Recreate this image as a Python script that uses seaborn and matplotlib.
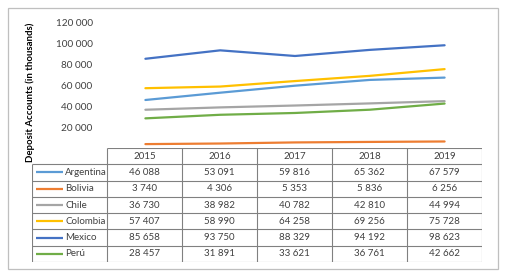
import pandas as pd
import matplotlib.pyplot as plt
import seaborn as sns
from matplotlib.ticker import FuncFormatter
from matplotlib.patches import Rectangle

years = ['2015', '2016', '2017', '2018', '2019']
countries = ['Argentina', 'Bolivia', 'Chile', 'Colombia', 'Mexico', 'Perú']
argentina = [46088, 53091, 59816, 65362, 67579]
bolivia = [3740, 4306, 5353, 5836, 6256]
chile = [36730, 38982, 40782, 42810, 44994]
colombia = [57407, 58990, 64258, 69256, 75728]
mexico = [85658, 93750, 88329, 94192, 98623]
peru = [28457, 31891, 33621, 36761, 42662]
colors = ['#5B9BD5', '#ED7D31', '#A5A5A5', '#FFC000', '#4472C4', '#70AD47']

series = [argentina, bolivia, chile, colombia, mexico, peru]
rows = []
for name, vals in zip(countries, series):
    for y, v in zip(years, vals):
        rows.append({'country': name, 'year': y, 'value': v})
df = pd.DataFrame(rows)

sns.set_theme(style='white')
plt.rcParams['font.family'] = ['Lato', 'DejaVu Sans']

W, H = 507, 278
fig = plt.figure(figsize=(W / 100, H / 100), dpi=100)


def px_axes(x0, y0, x1, y1):
    return fig.add_axes([x0 / W, 1 - y1 / H, (x1 - x0) / W, (y1 - y0) / H])


# outer chart frame
fig.patches.append(Rectangle((8 / W, 1 - 269 / H), 490 / W, 261 / H,
                             transform=fig.transFigure, fill=False,
                             edgecolor='#bfbfbf', lw=0.9))

ax = px_axes(108, 23, 482, 148)
sns.lineplot(data=df, x='year', y='value', hue='country', palette=colors,
             lw=1.6, legend=False, ax=ax, sort=False)
ax.set_xlim(-0.5, 4.5)
ax.set_ylim(0, 120000)
ax.set_yticks(range(20000, 120001, 20000))
ax.yaxis.set_major_formatter(FuncFormatter(lambda v, p: f'{int(v):,}'.replace(',', ' ')))
ax.tick_params(axis='y', labelsize=7.2, colors='#404040', length=0, pad=11)
ax.set_xticks([])
ax.set_xlabel('')
ax.set_ylabel('')
for s in ax.spines.values():
    s.set_visible(False)
ax.patch.set_alpha(0)

fig.text(30 / W, 1 - 92 / H, 'Deposit Accounts (in thousands)', rotation=90,
         ha='center', va='center', fontsize=6.9, fontweight='bold', color='black')

# data table
tab = px_axes(32, 148, 482, 262)
tab.set_xlim(-1.5, 4.5)
tab.set_ylim(7, 0)
tab.axis('off')
lc = '#808080'
tab.hlines(0, -0.5, 4.5, color=lc, lw=0.8)
tab.hlines(range(1, 8), -1.5, 4.5, color=lc, lw=0.8)
tab.vlines(-1.5, 1, 7, color=lc, lw=0.8)
tab.vlines([i - 0.5 for i in range(6)], 0, 7, color=lc, lw=0.8)

for j, y in enumerate(years):
    tab.text(j, 0.5, y, ha='center', va='center', fontsize=7, color='#404040')
for i, (name, vals, c) in enumerate(zip(countries, series, colors)):
    r = i + 1.5
    tab.plot([-1.447, -1.09], [r, r], color=c, lw=1.6, solid_capstyle='butt')
    tab.text(-1.06, r, name, ha='left', va='center', fontsize=7, color='#404040')
    for j, v in enumerate(vals):
        tab.text(j, r, f'{v:,}'.replace(',', ' '), ha='center', va='center',
                 fontsize=7, color='#404040')

fig.savefig('out.png', dpi=100)
